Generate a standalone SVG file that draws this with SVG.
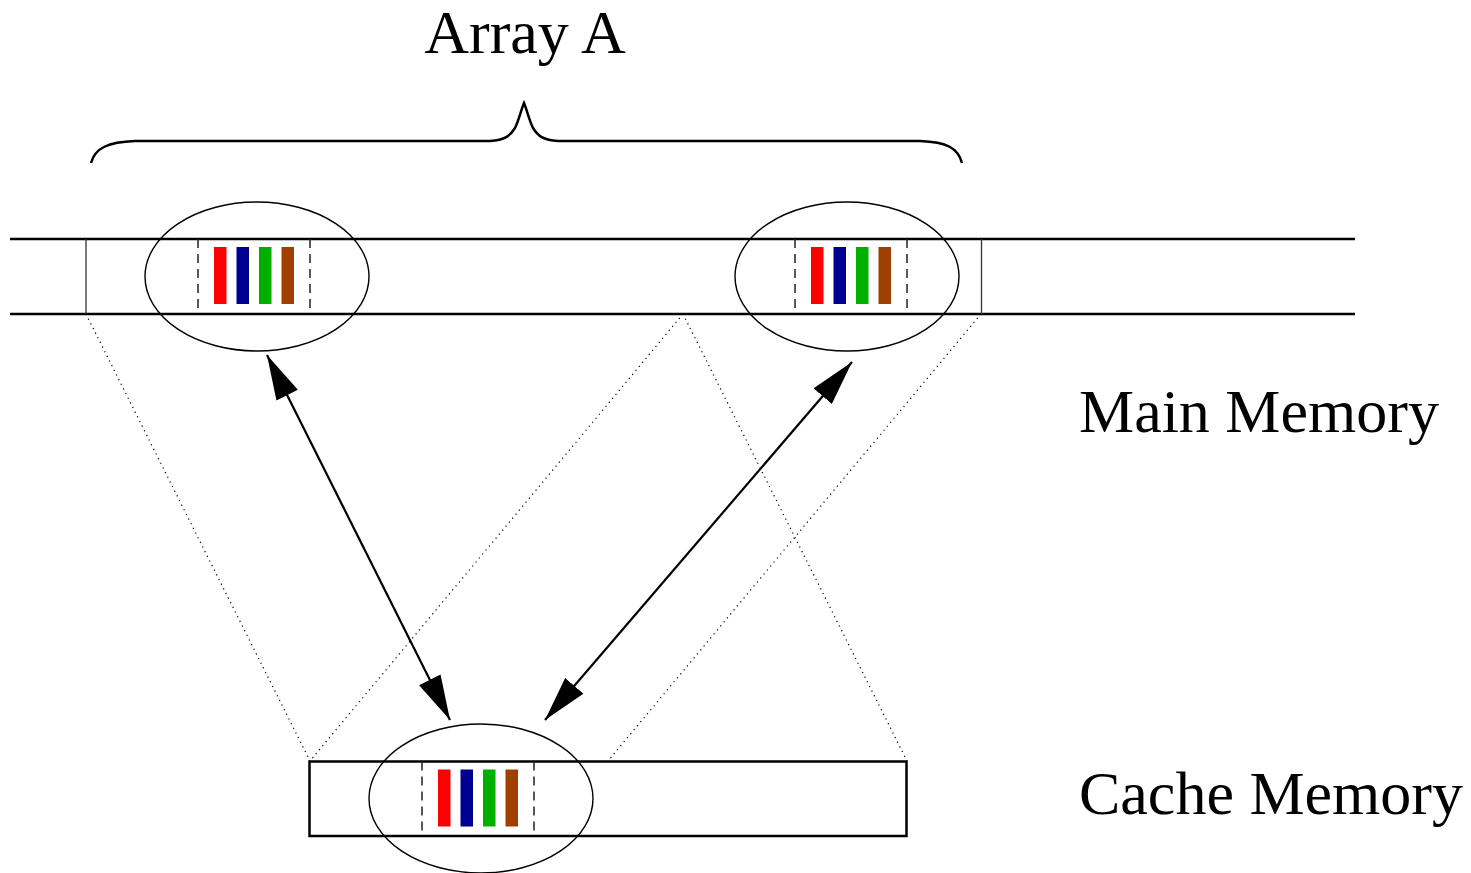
<svg xmlns="http://www.w3.org/2000/svg" width="1471" height="873" viewBox="0 0 1471 873">
<style>
.lbl{font-family:"Liberation Serif","Times New Roman",serif;font-size:62px;fill:#000}
.thick{stroke:#000;stroke-width:2.5;fill:none}
.thin{stroke:#333;stroke-width:1.3;fill:none}
.ell{stroke:#000;stroke-width:1.4;fill:none}
.dash{stroke:#222;stroke-width:1.5;stroke-dasharray:9,6;fill:none}
.dot{stroke:#000;stroke-width:1.2;stroke-dasharray:1.2,4;fill:none}
.arr{stroke:#000;stroke-width:2.2;fill:none}
.r{fill:#ff0000}.b{fill:#000090}.g{fill:#00b000}.o{fill:#a04000}
</style>
<defs>
<marker id="ah" viewBox="0 0 45 24" refX="45" refY="12" markerWidth="45" markerHeight="24" markerUnits="userSpaceOnUse" orient="auto-start-reverse">
<path d="M0,0 L45,12 L0,24 Z" fill="#000"/>
</marker>
<g id="bars">
<line class="dash" x1="0" y1="0" x2="0" y2="75"/>
<line class="dash" x1="112" y1="0" x2="112" y2="75"/>
<rect class="r" x="16" y="8" width="12.5" height="57"/>
<rect class="b" x="38.5" y="8" width="12.5" height="57"/>
<rect class="g" x="61" y="8" width="12.5" height="57"/>
<rect class="o" x="83.5" y="8" width="12.5" height="57"/>
</g>
</defs>
<g id="array-label">
<text class="lbl" x="525" y="53" text-anchor="middle">Array A</text>
<path class="thick" d="M91,163 C95,148 108,142 135,141 L490,141 C505,140 510,136 515,128 C519,120 521,110 524,103 C527,110 529,120 533,128 C538,136 543,140 558,141 L920,141 C947,142 958,148 962,163"/>
</g>
<g id="main-memory">
<line class="thick" x1="10" y1="239" x2="1355" y2="239"/>
<line class="thick" x1="10" y1="314" x2="1355" y2="314"/>
<line class="thin" x1="86" y1="239" x2="86" y2="314"/>
<line class="thin" x1="981.5" y1="239" x2="981.5" y2="314"/>
<text class="lbl" x="1079" y="432">Main Memory</text>
</g>
<g id="block-left">
<use href="#bars" x="198" y="239"/>
<ellipse class="ell" cx="257" cy="276.5" rx="112" ry="74.5"/>
</g>
<g id="block-right">
<use href="#bars" x="795" y="239"/>
<ellipse class="ell" cx="847" cy="276.5" rx="112" ry="74.5"/>
</g>
<g id="cache-memory">
<rect class="thick" x="309.5" y="761.5" width="597" height="74.5"/>
<use href="#bars" x="422" y="761.5"/>
<ellipse class="ell" cx="481" cy="798.5" rx="112" ry="74.5"/>
<text class="lbl" x="1079" y="814">Cache Memory</text>
</g>
<g id="connectors">
<line class="dot" x1="86" y1="314" x2="310" y2="761"/>
<line class="dot" x1="683" y1="314" x2="310" y2="761"/>
<line class="dot" x1="683" y1="314" x2="907" y2="761"/>
<line class="dot" x1="981" y1="314" x2="608" y2="761"/>
<line class="arr" x1="267" y1="355" x2="450" y2="720" marker-start="url(#ah)" marker-end="url(#ah)"/>
<line class="arr" x1="852" y1="362" x2="545" y2="720" marker-start="url(#ah)" marker-end="url(#ah)"/>
</g>
</svg>
